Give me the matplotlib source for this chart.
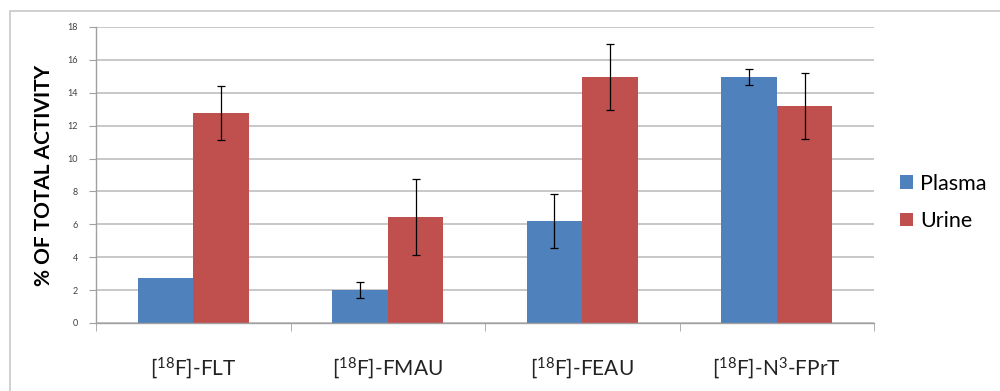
#!/usr/bin/env python

# Plasma vs urine activity for four tracers, Excel-style grouped bars.
import numpy as np
import matplotlib.pyplot as plt
from matplotlib.patches import Rectangle

plt.rcParams['font.family'] = ['Lato', 'DejaVu Sans']
plt.rcParams['mathtext.fontset'] = 'custom'
plt.rcParams['mathtext.rm'] = 'Lato'

tracers = [r'[$\mathregular{^{18}}$F]-FLT', r'[$\mathregular{^{18}}$F]-FMAU',
           r'[$\mathregular{^{18}}$F]-FEAU', r'[$\mathregular{^{18}}$F]-N$\mathregular{^{3}}$-FPrT']
plasma = [2.75, 2.0, 6.2, 14.95]
plasma_err = [0.0, 0.5, 1.65, 0.5]
urine = [12.75, 6.45, 14.95, 13.2]
urine_err = [1.65, 2.3, 2.0, 2.0]
yticks = [0, 2, 4, 6, 8, 10, 12, 14, 16, 18]

blue = '#4F81BD'
red = '#C0504D'
grid_col = '#BFBFBF'

fig = plt.figure(figsize=(10, 3.91), dpi=100)
ax = fig.add_axes([0.096, 0.174, 0.778, 0.757])

# Outer chart frame (runs off right and bottom edges)
fig.patches.append(Rectangle((0.010, -0.2), 1.2, 1.172, transform=fig.transFigure,
                             fill=False, edgecolor='#C8C8C8', linewidth=1.2))

x = np.arange(len(tracers))
w = 0.286
err_kw = dict(ecolor='black', elinewidth=0.9, capsize=3, capthick=0.9)
ax.bar(x - w / 2, plasma, w, color=blue, label='Plasma', zorder=2)
ax.bar(x + w / 2, urine, w, color=red, label='Urine', zorder=2)
pe = [e if e > 0 else np.nan for e in plasma_err]
ax.errorbar(x - w / 2, plasma, yerr=pe, fmt='none', zorder=3, **err_kw)
ax.errorbar(x + w / 2, urine, yerr=urine_err, fmt='none', zorder=3, **err_kw)

ax.set_xlim(-0.5, len(tracers) - 0.5)
ax.set_ylim(0, 18)
ax.set_yticks(yticks)
ax.set_yticklabels([str(v) for v in yticks], fontsize=6.5, color='#404040')
ax.yaxis.grid(True, color=grid_col, linewidth=1.2, zorder=0)
ax.set_axisbelow(True)

ax.set_xticks(x)
ax.set_xticklabels(tracers, fontsize=15, color='#222222')
ax.set_xticks(np.arange(len(tracers) + 1) - 0.5, minor=True)
ax.tick_params(axis='x', which='major', length=0, pad=23)
ax.tick_params(axis='x', which='minor', length=6, color='#A0A0A0', direction='out')
ax.tick_params(axis='y', length=5, color='#A0A0A0', direction='out', pad=8)

for s in ['top', 'right']:
    ax.spines[s].set_visible(False)
for s in ['left', 'bottom']:
    ax.spines[s].set_color('#A0A0A0')
    ax.spines[s].set_linewidth(1.0)

ax.set_ylabel('% OF TOTAL ACTIVITY', fontsize=15, fontweight='bold', labelpad=10)

ax.legend(loc='center left', bbox_to_anchor=(1.033, 0.407), frameon=False,
          fontsize=15.5, handlelength=0.6, handleheight=0.6, handletextpad=0.35,
          labelspacing=0.8, borderpad=0, borderaxespad=0)

plt.savefig('out.png', dpi=100)
